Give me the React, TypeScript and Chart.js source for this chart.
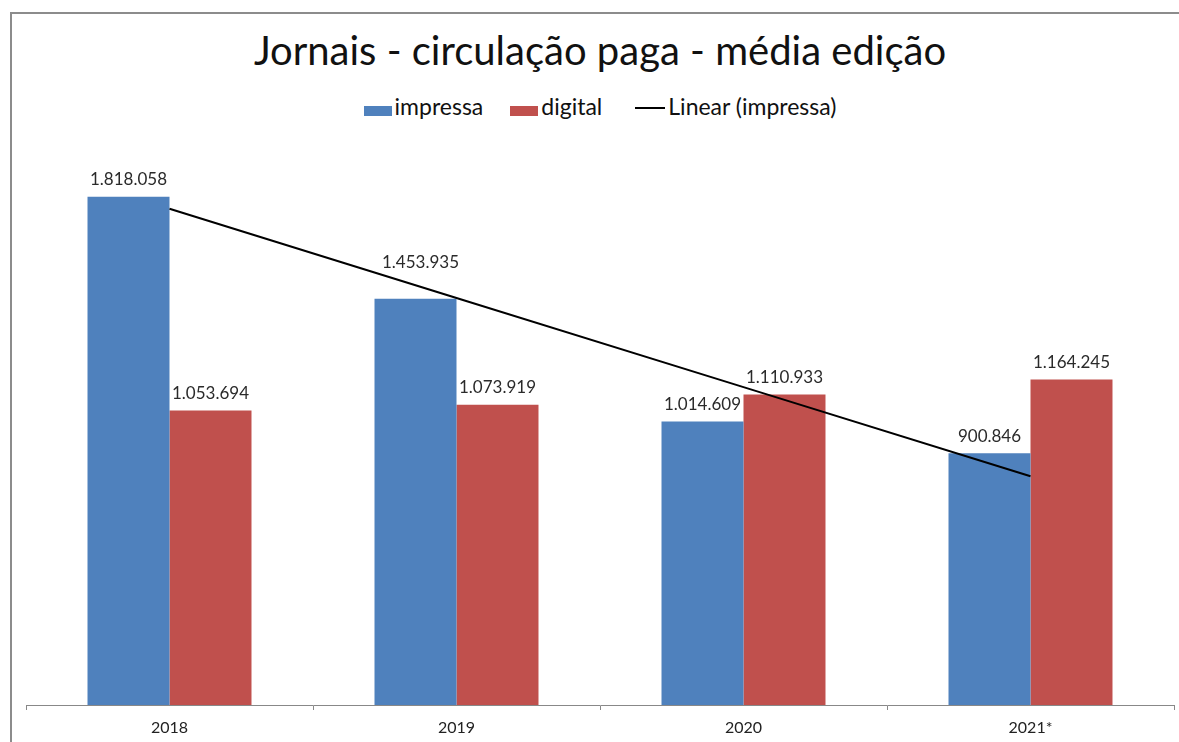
import React, { useEffect, useRef } from "react";
import { Chart, registerables } from "chart.js";

Chart.register(...registerables);

// ---- data ----
const categories = ["2018", "2019", "2020", "2021*"];
const impressa = [1818058, 1453935, 1014609, 900846];
const digital = [1053694, 1073919, 1110933, 1164245];
// Linear trend of "impressa" (as drawn by the original chart)
const trendImpressa = [1775506, 1456410, 1137314, 818218];
const yMax = 2000000;

const titleText = "Jornais - circulação paga - média edição";
const legendLabels = ["impressa", "digital", "Linear (impressa)"];

const FONT = "Lato, 'Open Sans', sans-serif";
const BLUE = "#4F81BD";
const RED = "#C0504D";

const fmt = (v: number) =>
  String(Math.round(v)).replace(/\B(?=(\d{3})+(?!\d))/g, ".");

const valueLabels = {
  id: "valueLabels",
  afterDatasetsDraw(chart: any) {
    const ctx = chart.ctx;
    ctx.save();
    ctx.font = `17px ${FONT}`;
    ctx.fillStyle = "#2a2a2a";
    ctx.textAlign = "center";
    ctx.textBaseline = "middle";
    chart.data.datasets.forEach((ds: any, di: number) => {
      if (ds.type !== "bar") return;
      const meta = chart.getDatasetMeta(di);
      meta.data.forEach((el: any, i: number) => {
        const adj = (ds.labelAdjust && ds.labelAdjust[i]) || [0, 0];
        ctx.fillText(fmt(ds.data[i]), el.x + adj[0], el.y - 17 - adj[1]);
      });
    });
    ctx.restore();
  },
};

export default function App() {
  const canvasRef = useRef<HTMLCanvasElement | null>(null);

  useEffect(() => {
    if (!canvasRef.current) return;
    const chart = new Chart(canvasRef.current, {
      type: "bar",
      data: {
        labels: categories,
        datasets: [
          {
            type: "line",
            label: legendLabels[2],
            data: trendImpressa,
            borderColor: "#000",
            borderWidth: 2,
            pointRadius: 0,
            fill: false,
            tension: 0,
            order: 0,
          } as any,
          {
            type: "bar",
            label: legendLabels[0],
            data: impressa,
            backgroundColor: BLUE,
            borderWidth: 0,
            order: 1,
            labelAdjust: [
              [0, 0],
              [5, 19],
              [0, 0],
              [0, 0],
            ],
          } as any,
          {
            type: "bar",
            label: legendLabels[1],
            data: digital,
            backgroundColor: RED,
            borderWidth: 0,
            order: 1,
          } as any,
        ],
      },
      options: {
        responsive: true,
        maintainAspectRatio: false,
        animation: false,
        datasets: {
          bar: { categoryPercentage: 0.5714, barPercentage: 1 },
        },
        layout: { padding: { top: 146, left: 26, right: 5, bottom: 0 } },
        plugins: {
          legend: { display: false },
          title: { display: false },
          tooltip: { enabled: false },
        },
        scales: {
          x: {
            grid: {
              display: true,
              drawOnChartArea: false,
              drawTicks: true,
              tickLength: 5,
              color: "#888",
              offset: true,
            },
            border: { display: true, color: "#888", width: 1 },
            ticks: {
              font: { family: FONT, size: 16 },
              color: "#222",
              padding: 8,
            },
            afterFit: (s: any) => {
              s.height = 37;
            },
          },
          y: { display: false, min: 0, max: yMax },
        },
      } as any,
      plugins: [valueLabels],
    });
    return () => chart.destroy();
  }, []);

  const item = (swatch: React.ReactNode, text: string, ml: number) => (
    <div style={{ display: "flex", alignItems: "center", marginLeft: ml }}>
      {swatch}
      <span>{text}</span>
    </div>
  );

  return (
    <div
      style={{
        position: "absolute",
        left: 0,
        top: 0,
        width: 1179,
        height: 742,
        overflow: "hidden",
        background: "#fff",
      }}
    >
      <div
        style={{
          position: "absolute",
          left: 10,
          top: 12,
          width: 1300,
          height: 900,
          borderTop: "2px solid #8c8c8c",
          borderLeft: "2px solid #8c8c8c",
        }}
      />
      <div
        style={{
          position: "absolute",
          left: 26,
          width: 1148,
          top: 25.5,
          textAlign: "center",
          fontFamily: FONT,
          fontSize: 40,
          lineHeight: 1.2,
          color: "#111",
          whiteSpace: "nowrap",
        }}
      >
        {titleText}
      </div>
      <div
        style={{
          position: "absolute",
          left: 26,
          width: 1148,
          top: 93.3,
          display: "flex",
          justifyContent: "center",
          alignItems: "center",
          fontFamily: FONT,
          fontSize: 23,
          lineHeight: 1.2,
          color: "#111",
          whiteSpace: "nowrap",
        }}
      >
        {item(
          <div style={{ width: 28, height: 10, background: BLUE, marginRight: 3, position: "relative", top: 4.4 }} />,
          legendLabels[0],
          0
        )}
        {item(
          <div style={{ width: 28, height: 10, background: RED, marginRight: 3, position: "relative", top: 4.4 }} />,
          legendLabels[1],
          27
        )}
        {item(
          <div style={{ width: 30, height: 2, background: "#000", marginRight: 3, position: "relative", top: 1.4 }} />,
          legendLabels[2],
          33
        )}
      </div>
      <div style={{ position: "absolute", left: 0, top: 0, width: 1179, height: 742 }}>
        <canvas ref={canvasRef} />
      </div>
    </div>
  );
}
